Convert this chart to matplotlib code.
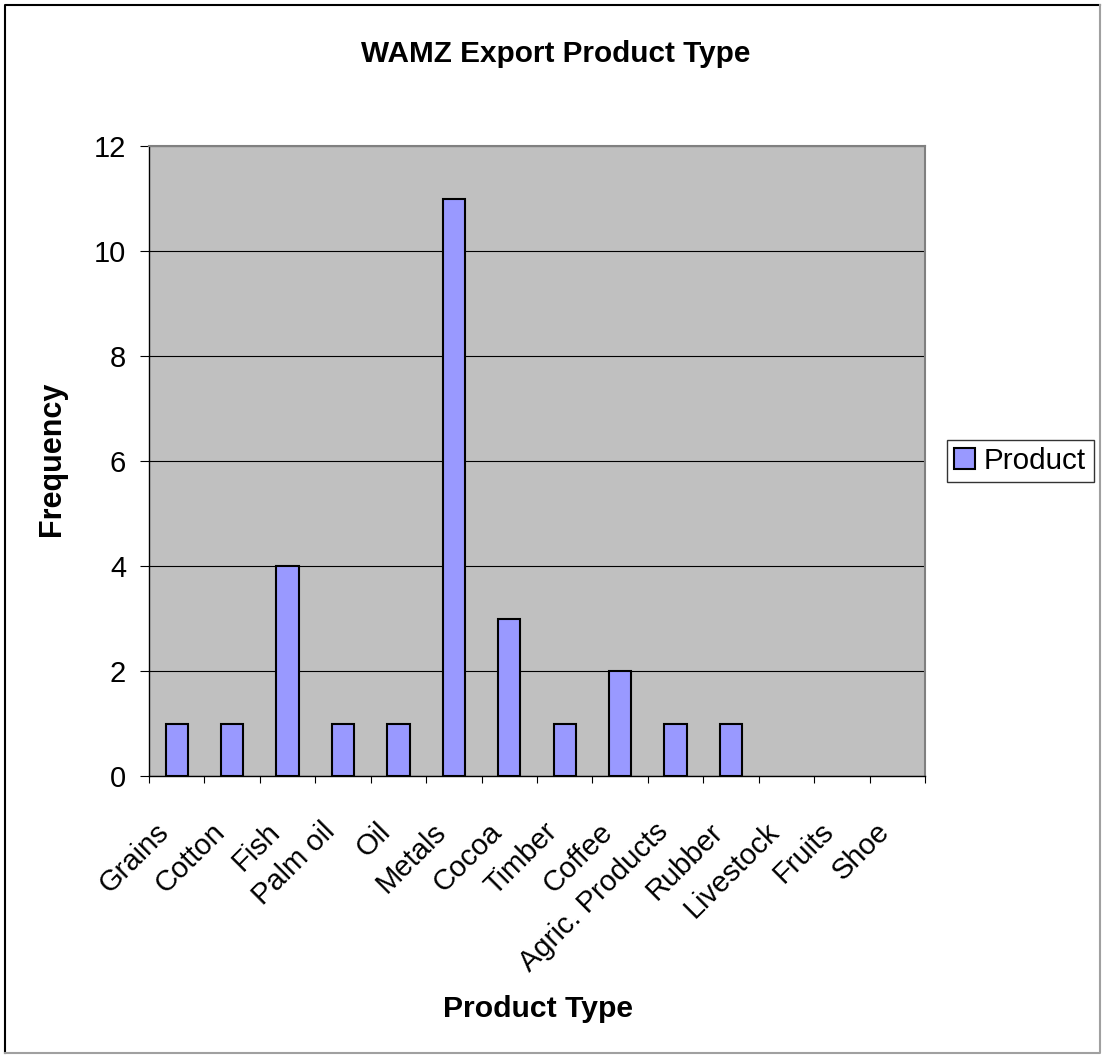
import numpy as np
import matplotlib.pyplot as plt
from matplotlib.lines import Line2D
from matplotlib.transforms import ScaledTranslation

plt.rcParams['font.family'] = ['Liberation Sans', 'DejaVu Sans']

# data
products = ['Grains', 'Cotton', 'Fish', 'Palm oil', 'Oil', 'Metals', 'Cocoa',
            'Timber', 'Coffee', 'Agric. Products', 'Rubber', 'Livestock',
            'Fruits', 'Shoe']
frequency = [1, 1, 4, 1, 1, 11, 3, 1, 2, 1, 1, 0, 0, 0]
y_ticks = [0, 2, 4, 6, 8, 10, 12]

W, H = 1103, 1055
fig = plt.figure(figsize=(W / 100, H / 100), dpi=100)
ax = fig.add_axes([149 / W, 1 - 776 / H, (925 - 149) / W, (776 - 146) / H])

x = np.arange(len(products))
ax.set_facecolor('#C0C0C0')
bars = ax.bar(x, frequency, width=0.4, color='#9999FF', edgecolor='black',
              linewidth=1.5, zorder=3, label='Product')
# Excel draws nothing for empty categories
for b, v in zip(bars, frequency):
    if v == 0:
        b.set_visible(False)

ax.set_xlim(-0.5, len(products) - 0.5)
ax.set_ylim(0, 12)
ax.set_yticks(y_ticks)
ax.yaxis.grid(True, color='black', linewidth=0.8, zorder=0)
ax.tick_params(axis='y', labelsize=21, length=6.5, width=0.8, pad=10,
               direction='out', color='black')

# tick marks between categories, labels at the centres
ax.set_xticks(np.arange(len(products) + 1) - 0.5)
ax.set_xticklabels([])
ax.tick_params(axis='x', which='major', length=5, width=0.8, color='black')
ax.set_xticks(x, minor=True)
ax.set_xticklabels(products, minor=True, rotation=45, ha='right',
                   va='center', rotation_mode='anchor', fontsize=21)
ax.tick_params(axis='x', which='minor', length=0, pad=37)
for lbl in ax.get_xticklabels(minor=True):
    lbl.set_transform(lbl.get_transform() +
                      ScaledTranslation(-12 / 100, 0, fig.dpi_scale_trans))

for side in ['top', 'right']:
    ax.spines[side].set_color('#808080')
    ax.spines[side].set_linewidth(1.5)
for side in ['left', 'bottom']:
    ax.spines[side].set_color('black')
    ax.spines[side].set_linewidth(1.0)

fig.text(556 / W, 1 - 62 / H, 'WAMZ Export Product Type', ha='center',
         va='baseline', fontsize=21.4, fontweight='bold')
fig.text(538 / W, 1 - 1017 / H, 'Product Type', ha='center', va='baseline',
         fontsize=21.7, fontweight='bold')
fig.text(60 / W, 1 - 459 / H, 'Frequency', rotation=90, rotation_mode='anchor',
         ha='center', va='baseline', fontsize=22, fontweight='bold')

leg = ax.legend(loc='center left', bbox_to_anchor=(947 / W, 1 - 461 / H),
                bbox_transform=fig.transFigure, fontsize=21.3, frameon=True,
                fancybox=False, borderaxespad=0, handlelength=0.7,
                handleheight=0.7, handletextpad=0.3, borderpad=0.25)
leg.get_frame().set_edgecolor('black')
leg.get_frame().set_linewidth(1.0)

# chart border
fig.add_artist(Line2D([5 / W, 5 / W, 1100 / W], [1 - 1053 / H, 1 - 5 / H, 1 - 5 / H],
                      transform=fig.transFigure, color='black', linewidth=1.5))
fig.add_artist(Line2D([5 / W, 1100 / W, 1100 / W], [1 - 1053 / H, 1 - 1053 / H, 1 - 5 / H],
                      transform=fig.transFigure, color='#A0A0A0', linewidth=1.5))

fig.savefig('out.png', dpi=100)
